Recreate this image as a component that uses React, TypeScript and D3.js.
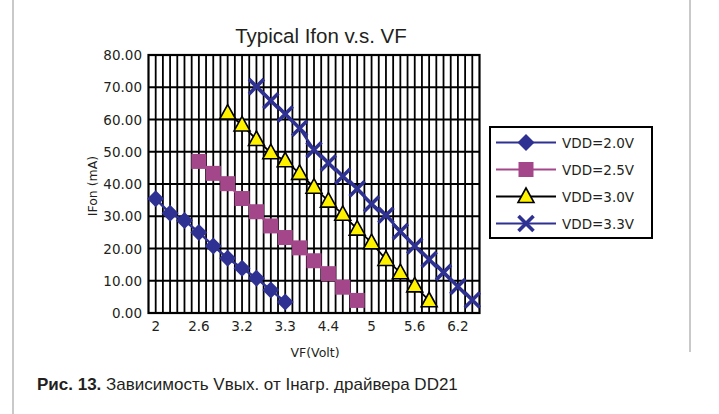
import * as d3 from "d3";

// category axis: every grid line is one 0.1 V step, 1.9 .. 6.5
const xTickValues = [2.0, 2.6, 3.2, 3.8, 4.4, 5.0, 5.6, 6.2];
const xTickLabels = ["2", "2.6", "3.2", "3.3", "4.4", "5", "5.6", "6.2"];
const yTickValues = [0, 10, 20, 30, 40, 50, 60, 70, 80];

const vdd20x = [2.0, 2.2, 2.4, 2.6, 2.8, 3.0, 3.2, 3.4, 3.6, 3.8];
const vdd20y = [35.4, 30.9, 28.7, 25.0, 20.8, 17.0, 13.9, 10.8, 7.1, 3.4];

const vdd25x = [2.6, 2.8, 3.0, 3.2, 3.4, 3.6, 3.8, 4.0, 4.2, 4.4, 4.6, 4.8];
const vdd25y = [47.0, 43.3, 40.1, 35.5, 31.4, 27.0, 23.4, 20.2, 16.2, 12.2, 8.0, 3.9];

const vdd30x = [3.0, 3.2, 3.4, 3.6, 3.8, 4.0, 4.2, 4.4, 4.6, 4.8, 5.0, 5.2, 5.4, 5.6, 5.8];
const vdd30y = [62.0, 58.3, 53.8, 49.7, 47.2, 43.3, 39.0, 34.7, 30.6, 26.0, 21.8, 16.6, 12.5, 8.4, 3.8];

const vdd33x = [3.4, 3.6, 3.8, 4.0, 4.2, 4.4, 4.6, 4.8, 5.0, 5.2, 5.4, 5.6, 5.8, 6.0, 6.2, 6.4];
const vdd33y = [70.2, 65.8, 61.7, 57.3, 50.6, 46.5, 42.4, 38.5, 33.8, 30.3, 25.3, 20.8, 16.6, 12.6, 8.2, 4.0];

const seriesNames = ["VDD=2.0V", "VDD=2.5V", "VDD=3.0V", "VDD=3.3V"];

const BLUE = "#2E3192";
const MAGENTA = "#A3478A";
const YELLOW = "#FFF200";
const INK = "#231F20";

function Marker({ kind, cx, cy }: { kind: number; cx: number; cy: number }) {
  if (kind === 0) {
    const r = 8.5;
    return <path d={`M${cx},${cy - r}L${cx + r},${cy}L${cx},${cy + r}L${cx - r},${cy}Z`} fill={BLUE} />;
  }
  if (kind === 1) {
    const s = 7.5;
    return <rect x={cx - s} y={cy - s} width={s * 2} height={s * 2} fill={MAGENTA} />;
  }
  if (kind === 2) {
    return (
      <path
        d={`M${cx},${cy - 8.5}L${cx + 8},${cy + 6}L${cx - 8},${cy + 6}Z`}
        fill={YELLOW}
        stroke="#000"
        strokeWidth={1.6}
        strokeLinejoin="miter"
      />
    );
  }
  const a = 7.5;
  return (
    <path
      d={`M${cx - a},${cy - a}L${cx + a},${cy + a}M${cx + a},${cy - a}L${cx - a},${cy + a}`}
      stroke={BLUE}
      strokeWidth={3.6}
      fill="none"
    />
  );
}

export default function App() {
  const width = 719;
  const height = 414;
  const left = 148.5;
  const right = 479.5;
  const top = 55;
  const bottom = 313;

  const x = d3.scaleLinear([1.9, 6.5], [left, right]);
  const y = d3.scaleLinear([0, 80], [bottom, top]);

  const gridX = d3.range(1, 46).map((i) => 1.9 + i * 0.1);

  const series = [
    { xs: vdd20x, ys: vdd20y, color: BLUE, lw: 2.5 },
    { xs: vdd25x, ys: vdd25y, color: MAGENTA, lw: 2.5 },
    { xs: vdd30x, ys: vdd30y, color: "#000", lw: 1.8 },
    { xs: vdd33x, ys: vdd33y, color: BLUE, lw: 2.5 },
  ];

  const line = d3
    .line<[number, number]>()
    .x((d) => x(d[0]))
    .y((d) => y(d[1]));

  const legendX = 490;
  const legendY = 127;
  const legendRow = 27;

  return (
    <svg
      width={width}
      height={height}
      style={{ position: "absolute", left: 0, top: 0, background: "#fff" }}
    >
      {/* page frame */}
      <path d="M13,-2V414M690,-2V352" stroke="#b8b8b8" strokeWidth={1.5} fill="none" />

      <text x={321} y={43} textAnchor="middle" fontFamily="Liberation Sans" fontSize={20.5} fill={INK}>
        Typical Ifon v.s. VF
      </text>

      {/* plot area */}
      <rect x={left} y={top} width={right - left} height={bottom - top} fill="#fff" />
      <g stroke="#000" strokeWidth={1.8}>
        {gridX.map((v, i) => (
          <line key={i} x1={x(v)} x2={x(v)} y1={top} y2={bottom} />
        ))}
      </g>
      <g stroke="#000" strokeWidth={2.2}>
        {yTickValues.map((v) => (
          <line key={v} x1={left} x2={right} y1={y(v)} y2={y(v)} />
        ))}
      </g>
      <rect x={left} y={top} width={right - left} height={bottom - top} fill="none" stroke="#000" strokeWidth={2.2} />

      {/* y axis */}
      <g fontFamily="DejaVu Sans" fontSize={13.5} fill={INK} textAnchor="end">
        {yTickValues.map((v) => (
          <text key={v} x={142} y={y(v) + 5}>
            {d3.format(".2f")(v)}
          </text>
        ))}
      </g>
      <text
        transform={`translate(97,${(top + bottom) / 2 + 2}) rotate(-90)`}
        textAnchor="middle"
        fontFamily="DejaVu Sans"
        fontSize={12.5}
        fill={INK}
      >
        IFon (mA)
      </text>

      {/* x axis */}
      <g fontFamily="DejaVu Sans" fontSize={13.5} fill={INK} textAnchor="middle">
        {xTickValues.map((v, i) => (
          <text key={v} x={x(v)} y={331}>
            {xTickLabels[i]}
          </text>
        ))}
      </g>
      <text x={315} y={357} textAnchor="middle" fontFamily="DejaVu Sans" fontSize={12.5} fill={INK}>
        VF(Volt)
      </text>

      {/* series */}
      {series.map((s, k) => {
        const pts = s.xs.map((v, i) => [v, s.ys[i]] as [number, number]);
        return (
          <g key={k}>
            <path d={line(pts) || ""} fill="none" stroke={s.color} strokeWidth={s.lw} />
            {pts.map((p, i) => (
              <Marker key={i} kind={k} cx={x(p[0])} cy={y(p[1])} />
            ))}
          </g>
        );
      })}

      {/* legend */}
      <rect x={legendX} y={legendY} width={162} height={111} fill="#fff" stroke="#000" strokeWidth={2} />
      {seriesNames.map((name, k) => {
        const cy = legendY + 15.5 + k * legendRow;
        return (
          <g key={name}>
            <line x1={legendX + 6} x2={legendX + 66} y1={cy} y2={cy} stroke={series[k].color} strokeWidth={2} />
            <Marker kind={k} cx={legendX + 36} cy={cy} />
            <text x={legendX + 72} y={cy + 5} fontFamily="DejaVu Sans" fontSize={13.5} fill={INK}>
              {name}
            </text>
          </g>
        );
      })}

      {/* caption */}
      <text x={37} y={390} fontFamily="Liberation Sans" fontSize={17} fill={INK}>
        <tspan fontWeight="bold">Рис. 13.</tspan> Зависимость Vвых. от Iнагр. драйвера DD21
      </text>
    </svg>
  );
}
